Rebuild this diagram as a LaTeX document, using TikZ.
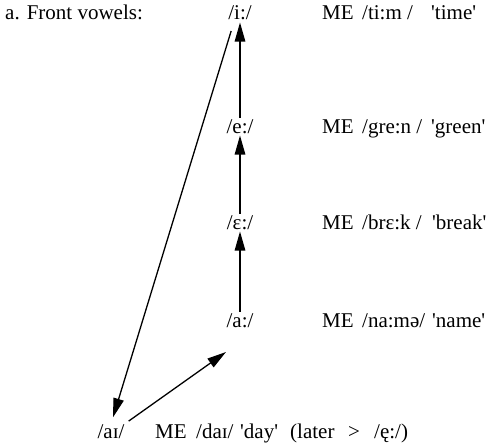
\documentclass[tikz,border=0pt]{standalone}
\usepackage{fontspec}
\setmainfont{Liberation Serif}
\usetikzlibrary{arrows.meta,calc}
\newcommand{\q}{\textquotesingle}
\begin{document}
\begin{tikzpicture}[x=1pt,y=-1pt,
  txt/.style={anchor=base west,inner sep=0pt,font=\fontsize{21}{25}\selectfont},
  vow/.style={anchor=base,inner sep=0pt,font=\fontsize{21}{25}\selectfont},
  arr/.style={line width=1.3pt,-{Triangle[length=19pt,width=10.5pt]}}]
\useasboundingbox (0,0) rectangle (486,445);
% row 1
\node[txt] (lab) at (5,19) {a. Front vowels:};
\node[vow] (i) at (240,19) {/i:/};
\node[txt] (me1) at (322,19) {ME};
\node[txt] (w1) at (362,19) {/ti:m /};
\node[txt] (g1) at (431,19) {\q time\q};
% row 2
\node[vow] (e) at (240,133) {/e:/};
\node[txt] (me2) at (322,133) {ME};
\node[txt] (w2) at (362,133) {/gre:n /};
\node[txt] (g2) at (431,133) {\q green\q};
% row 3
\node[vow] (E) at (240,229) {/ɛ:/};
\node[txt] (me3) at (322,229) {ME};
\node[txt] (w3) at (362,229) {/brɛ:k /};
\node[txt] (g3) at (432,229) {\q break\q};
% row 4
\node[vow] (a) at (240,327) {/a:/};
\node[txt] (me4) at (322,327) {ME};
\node[txt] (w4) at (362,327) {/na:mə/};
\node[txt] (g4) at (432,327) {\q name\q};
% bottom row
\node[vow] (ai) at (111,438) {/aɪ/};
\node[txt] (me5) at (155,438) {ME};
\node[txt] (w5) at (196,438) {/daɪ/};
\node[txt] (g5) at (240,438) {\q day\q};
\node[txt] (l5) at (290,438) {(later};
\node[txt] (gt) at (348,438) {>};
\node[txt] (e5) at (374,438) {/ę:/)};
\coordinate (atip) at (226,352);
\coordinate (itop) at ($(i.south)!0.45!(i.south west)$);
% arrows
\draw[arr,shorten <=1pt,shorten >=3pt] (e.north) -- (i.south);
\draw[arr,shorten <=1pt,shorten >=2pt] (E.north) -- (e.south);
\draw[arr,shorten <=1pt,shorten >=2pt] (a.north) -- (E.south);
\draw[arr,shorten <=12pt,shorten >=7pt] (itop) -- (ai.north);
\draw[arr,shorten <=5pt] (ai.north east) -- (atip);
\end{tikzpicture}
\end{document}
